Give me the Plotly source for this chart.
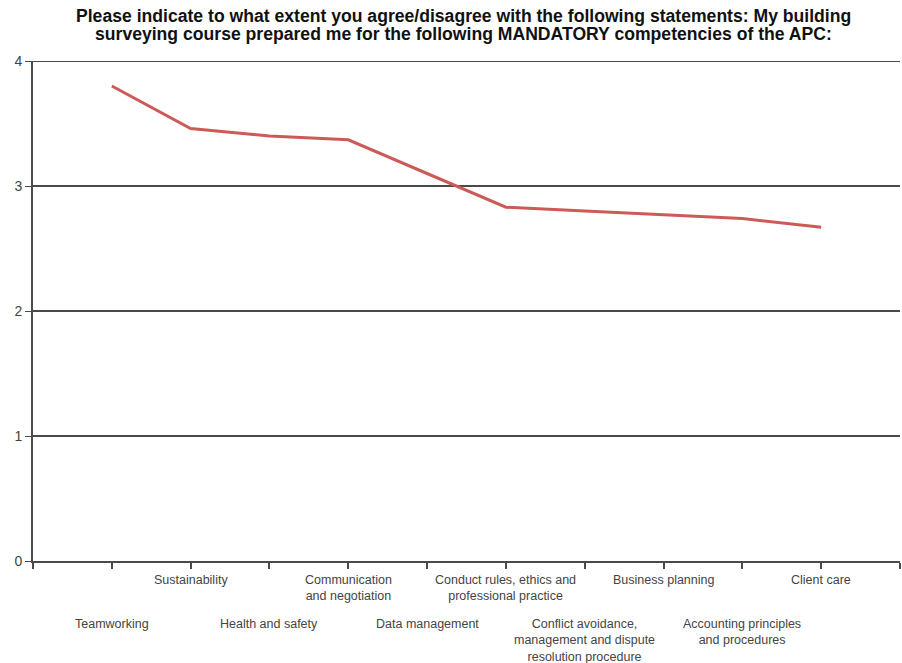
import plotly.graph_objects as go

categories = [
    "Teamworking",
    "Sustainability",
    "Health and safety",
    "Communication<br>and negotiation",
    "Data management",
    "Conduct rules, ethics and<br>professional practice",
    "Conflict avoidance,<br>management and dispute<br>resolution procedure",
    "Business planning",
    "Accounting principles<br>and procedures",
    "Client care",
]
values = [3.80, 3.46, 3.40, 3.37, 3.10, 2.83, 2.80, 2.77, 2.74, 2.67]
y_ticks = [0, 1, 2, 3, 4]

title_lines = [
    "Please indicate to what extent you agree/disagree with the following statements: My building",
    "surveying course prepared me for the following MANDATORY competencies of the APC:",
]

FONT = "Liberation Sans, Arial, sans-serif"
xpos = list(range(len(categories)))

fig = go.Figure()
fig.add_trace(go.Scatter(
    x=xpos, y=values, mode="lines",
    line=dict(color="#cc5b58", width=3),
    hoverinfo="skip", showlegend=False,
))

annotations = []
for i, c in enumerate(categories):
    upper = (i % 2 == 1)
    annotations.append(dict(
        x=i, xref="x", y=-0.02 if upper else -0.108, yref="paper",
        text=c, showarrow=False, xanchor="center", yanchor="top",
        font=dict(family=FONT, size=12.5, color="#444444"),
        align="center",
    ))
for j, (line, yy) in enumerate(zip(title_lines, [1.09, 1.054])):
    annotations.append(dict(
        x=0.497, xref="paper", y=yy, yref="paper", text="<b>" + line + "</b>",
        showarrow=False, xanchor="center", yanchor="middle",
        font=dict(family=FONT, size=17.6, color="#111111"),
    ))

fig.update_layout(
    width=902, height=663,
    margin=dict(l=33, r=2, t=61, b=102),
    paper_bgcolor="white", plot_bgcolor="white",
    annotations=annotations,
    shapes=[dict(type="line", xref="paper", yref="y", x0=0, x1=1, y0=4, y1=4,
                 line=dict(color="#4a4a4a", width=2), layer="below")],
    xaxis=dict(
        range=[-1, len(categories)],
        tickvals=list(range(-1, len(categories) + 1)),
        ticktext=[""] * (len(categories) + 2),
        ticks="outside", ticklen=6, tickwidth=2, tickcolor="#4a4a4a",
        showgrid=False, zeroline=False,
        showline=True, linecolor="#4a4a4a", linewidth=2,
        fixedrange=True,
    ),
    yaxis=dict(
        range=[0, 4], tickvals=y_ticks, ticktext=[str(v) for v in y_ticks],
        ticks="outside", ticklen=6, tickwidth=1, tickcolor="#4a4a4a",
        showgrid=True, gridcolor="#4a4a4a", gridwidth=2,
        zeroline=False, showline=True, linecolor="#4a4a4a", linewidth=2,
        tickfont=dict(family=FONT, size=14, color="#444444"),
        fixedrange=True,
    ),
)

fig.write_html("out.html")
